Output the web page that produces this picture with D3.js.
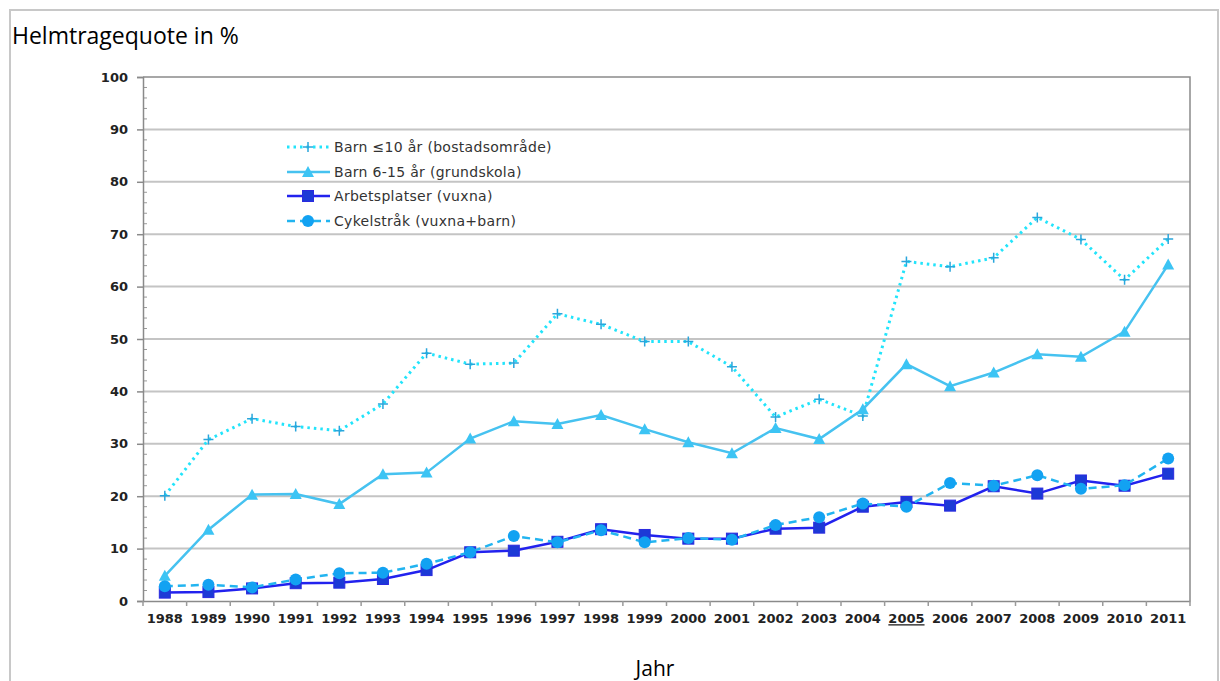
<!DOCTYPE html>
<html>
<head>
<meta charset="utf-8">
<script src="https://cdn.jsdelivr.net/npm/d3@7"></script>
<style>
  html, body { margin: 0; padding: 0; background: #fff; }
  svg { display: block; }
</style>
</head>
<body>
<svg id="chart" width="1220" height="681"></svg>
<script>
// Years on the category axis
const years = ["1988","1989","1990","1991","1992","1993","1994","1995","1996","1997","1998","1999",
               "2000","2001","2002","2003","2004","2005","2006","2007","2008","2009","2010","2011"];

// Helmet-wearing rates (%) per observation group
const barnUnder10 = [20.1, 30.8, 34.8, 33.3, 32.5, 37.6, 47.3, 45.2, 45.4, 54.8, 52.8, 49.5,
                     49.5, 44.7, 35.1, 38.5, 35.3, 64.8, 63.8, 65.5, 73.2, 69.0, 61.3, 69.1];
const barn6to15   = [4.8, 13.6, 20.3, 20.4, 18.5, 24.2, 24.5, 31.0, 34.3, 33.8, 35.5, 32.8,
                     30.3, 28.2, 33.0, 30.9, 36.6, 45.2, 41.0, 43.6, 47.1, 46.6, 51.4, 64.2];
const arbetsplatser = [1.6, 1.7, 2.4, 3.4, 3.5, 4.2, 5.9, 9.3, 9.6, 11.3, 13.7, 12.6,
                       11.9, 11.9, 13.8, 14.0, 18.0, 18.9, 18.2, 21.9, 20.5, 23.0, 22.0, 24.3];
const cykelstrak  = [2.8, 3.1, 2.6, 4.1, 5.3, 5.4, 7.1, 9.3, 12.4, 11.2, 13.5, 11.2,
                     12.0, 11.7, 14.5, 16.0, 18.6, 18.0, 22.5, 22.0, 24.0, 21.4, 22.1, 27.2];

const yTicks = [0, 10, 20, 30, 40, 50, 60, 70, 80, 90, 100];
const underlinedYear = "2005";

const seriesNames = ["Barn \u226410 \u00e5r (bostadsomr\u00e5de)", "Barn 6-15 \u00e5r (grundskola)",
                     "Arbetsplatser (vuxna)", "Cykelstr\u00e5k (vuxna+barn)"];

const series = [
  { name: seriesNames[0], values: barnUnder10, line: "#22e4fb", mark: "#2aa6dc", dash: "2.5,4", width: 3, symbol: "plus" },
  { name: seriesNames[1], values: barn6to15, line: "#46c2f0", mark: "#3cc4f4", dash: null, width: 2.5, symbol: "triangle" },
  { name: seriesNames[2], values: arbetsplatser, line: "#2222ee", mark: "#1c3ad6", dash: null, width: 2.5, symbol: "square" },
  { name: seriesNames[3], values: cykelstrak, line: "#22b4f0", mark: "#12a2f2", dash: "8,5", width: 2.5, symbol: "circle" }
];

const svg = d3.select("#chart");

// outer frame
svg.append("rect")
  .attr("x", 10).attr("y", 10).attr("width", 1208).attr("height", 700)
  .attr("fill", "none").attr("stroke", "#c8c8c8").attr("stroke-width", 2);

const plot = { left: 143, right: 1190, top: 77, bottom: 601 };

const x = d3.scaleBand().domain(years).range([plot.left, plot.right]).padding(0);
const y = d3.scaleLinear().domain([0, 100]).range([plot.bottom, plot.top]);

// horizontal gridlines
svg.append("g").selectAll("line").data(yTicks.filter(d => d > 0 && d < 100)).join("line")
  .attr("x1", plot.left).attr("x2", plot.right)
  .attr("y1", d => y(d)).attr("y2", d => y(d))
  .attr("stroke", "#c4c4c4").attr("stroke-width", 2);

// plot frame (top and right)
svg.append("path")
  .attr("d", `M${plot.left},${plot.top}H${plot.right}V${plot.bottom}`)
  .attr("fill", "none").attr("stroke", "#8a8a8a").attr("stroke-width", 1.5);

// minor ticks on the value axis
svg.append("g").selectAll("line").data(d3.range(0, 101, 2).filter(d => d % 10 !== 0)).join("line")
  .attr("x1", plot.left).attr("x2", plot.left + 4)
  .attr("y1", d => y(d)).attr("y2", d => y(d))
  .attr("stroke", "#9a9a9a").attr("stroke-width", 1);

// value axis
const yAxis = svg.append("g")
  .attr("transform", `translate(${plot.left},0)`)
  .call(d3.axisLeft(y).tickValues(yTicks).tickSize(6).tickPadding(9));
yAxis.select(".domain").attr("stroke", "#8a8a8a").attr("stroke-width", 1.5);
yAxis.selectAll(".tick line").attr("stroke", "#8a8a8a").attr("stroke-width", 1.5);
yAxis.selectAll(".tick text")
  .attr("font-family", "DejaVu Sans, sans-serif").attr("font-weight", "bold")
  .attr("font-size", 13).attr("fill", "#222");

// category axis
const xAxis = svg.append("g")
  .attr("transform", `translate(0,${plot.bottom})`)
  .call(d3.axisBottom(x).tickSize(0).tickPadding(13));
xAxis.select(".domain").attr("stroke", "#8a8a8a").attr("stroke-width", 1.5);
xAxis.selectAll(".tick text")
  .attr("font-family", "DejaVu Sans, sans-serif").attr("font-weight", "bold")
  .attr("font-size", 13).attr("fill", "#222")
  .style("text-decoration", d => d === underlinedYear ? "underline" : null);

// tick marks between categories
svg.append("g").selectAll("line").data(d3.range(years.length + 1)).join("line")
  .attr("x1", i => plot.left + i * x.bandwidth()).attr("x2", i => plot.left + i * x.bandwidth())
  .attr("y1", plot.bottom).attr("y2", plot.bottom + 5)
  .attr("stroke", "#9a9a9a").attr("stroke-width", 1.5);

// marker drawing helper
function drawMarker(g, symbol, color, cx, cy) {
  if (symbol === "plus") {
    g.append("path")
      .attr("d", `M${cx - 5},${cy}H${cx + 5}M${cx},${cy - 5}V${cy + 5}`)
      .attr("stroke", color).attr("stroke-width", 1.5).attr("fill", "none");
  } else if (symbol === "triangle") {
    g.append("path")
      .attr("d", `M${cx},${cy - 6}L${cx + 6},${cy + 5}L${cx - 6},${cy + 5}Z`)
      .attr("fill", color);
  } else if (symbol === "square") {
    g.append("rect")
      .attr("x", cx - 5.5).attr("y", cy - 5.5).attr("width", 11).attr("height", 11)
      .attr("fill", color).attr("stroke", "#2a2ae0").attr("stroke-width", 1);
  } else if (symbol === "circle") {
    g.append("circle").attr("cx", cx).attr("cy", cy).attr("r", 6).attr("fill", color);
  }
}

const line = d3.line()
  .x((d, i) => x(years[i]) + x.bandwidth() / 2)
  .y(d => y(d));

// series lines and markers
series.forEach(s => {
  const g = svg.append("g");
  g.append("path")
    .attr("d", line(s.values))
    .attr("fill", "none").attr("stroke", s.line).attr("stroke-width", s.width)
    .attr("stroke-dasharray", s.dash);
  s.values.forEach((v, i) => drawMarker(g, s.symbol, s.mark, x(years[i]) + x.bandwidth() / 2, y(v)));
});

// legend
const legend = svg.append("g");
const legendRows = [147, 172, 196, 221];
series.forEach((s, i) => {
  const ly = legendRows[i];
  legend.append("line")
    .attr("x1", 287).attr("x2", 330).attr("y1", ly).attr("y2", ly)
    .attr("stroke", s.line).attr("stroke-width", s.width).attr("stroke-dasharray", s.dash);
  drawMarker(legend, s.symbol, s.mark, 308, ly);
  legend.append("text")
    .attr("x", 334).attr("y", ly).attr("dy", "0.35em")
    .attr("font-family", "DejaVu Sans, sans-serif").attr("font-size", 14)
    .attr("letter-spacing", 0.3)
    .attr("fill", "#333").text(s.name);
});

// titles
svg.append("text")
  .attr("x", 12).attr("y", 44)
  .attr("font-family", "Open Sans, sans-serif").attr("font-size", 23)
  .attr("fill", "#000").text("Helmtragequote in %");

svg.append("text")
  .attr("x", 655).attr("y", 676).attr("text-anchor", "middle")
  .attr("font-family", "Open Sans, sans-serif").attr("font-size", 21)
  .attr("fill", "#000").text("Jahr");
</script>
</body>
</html>
